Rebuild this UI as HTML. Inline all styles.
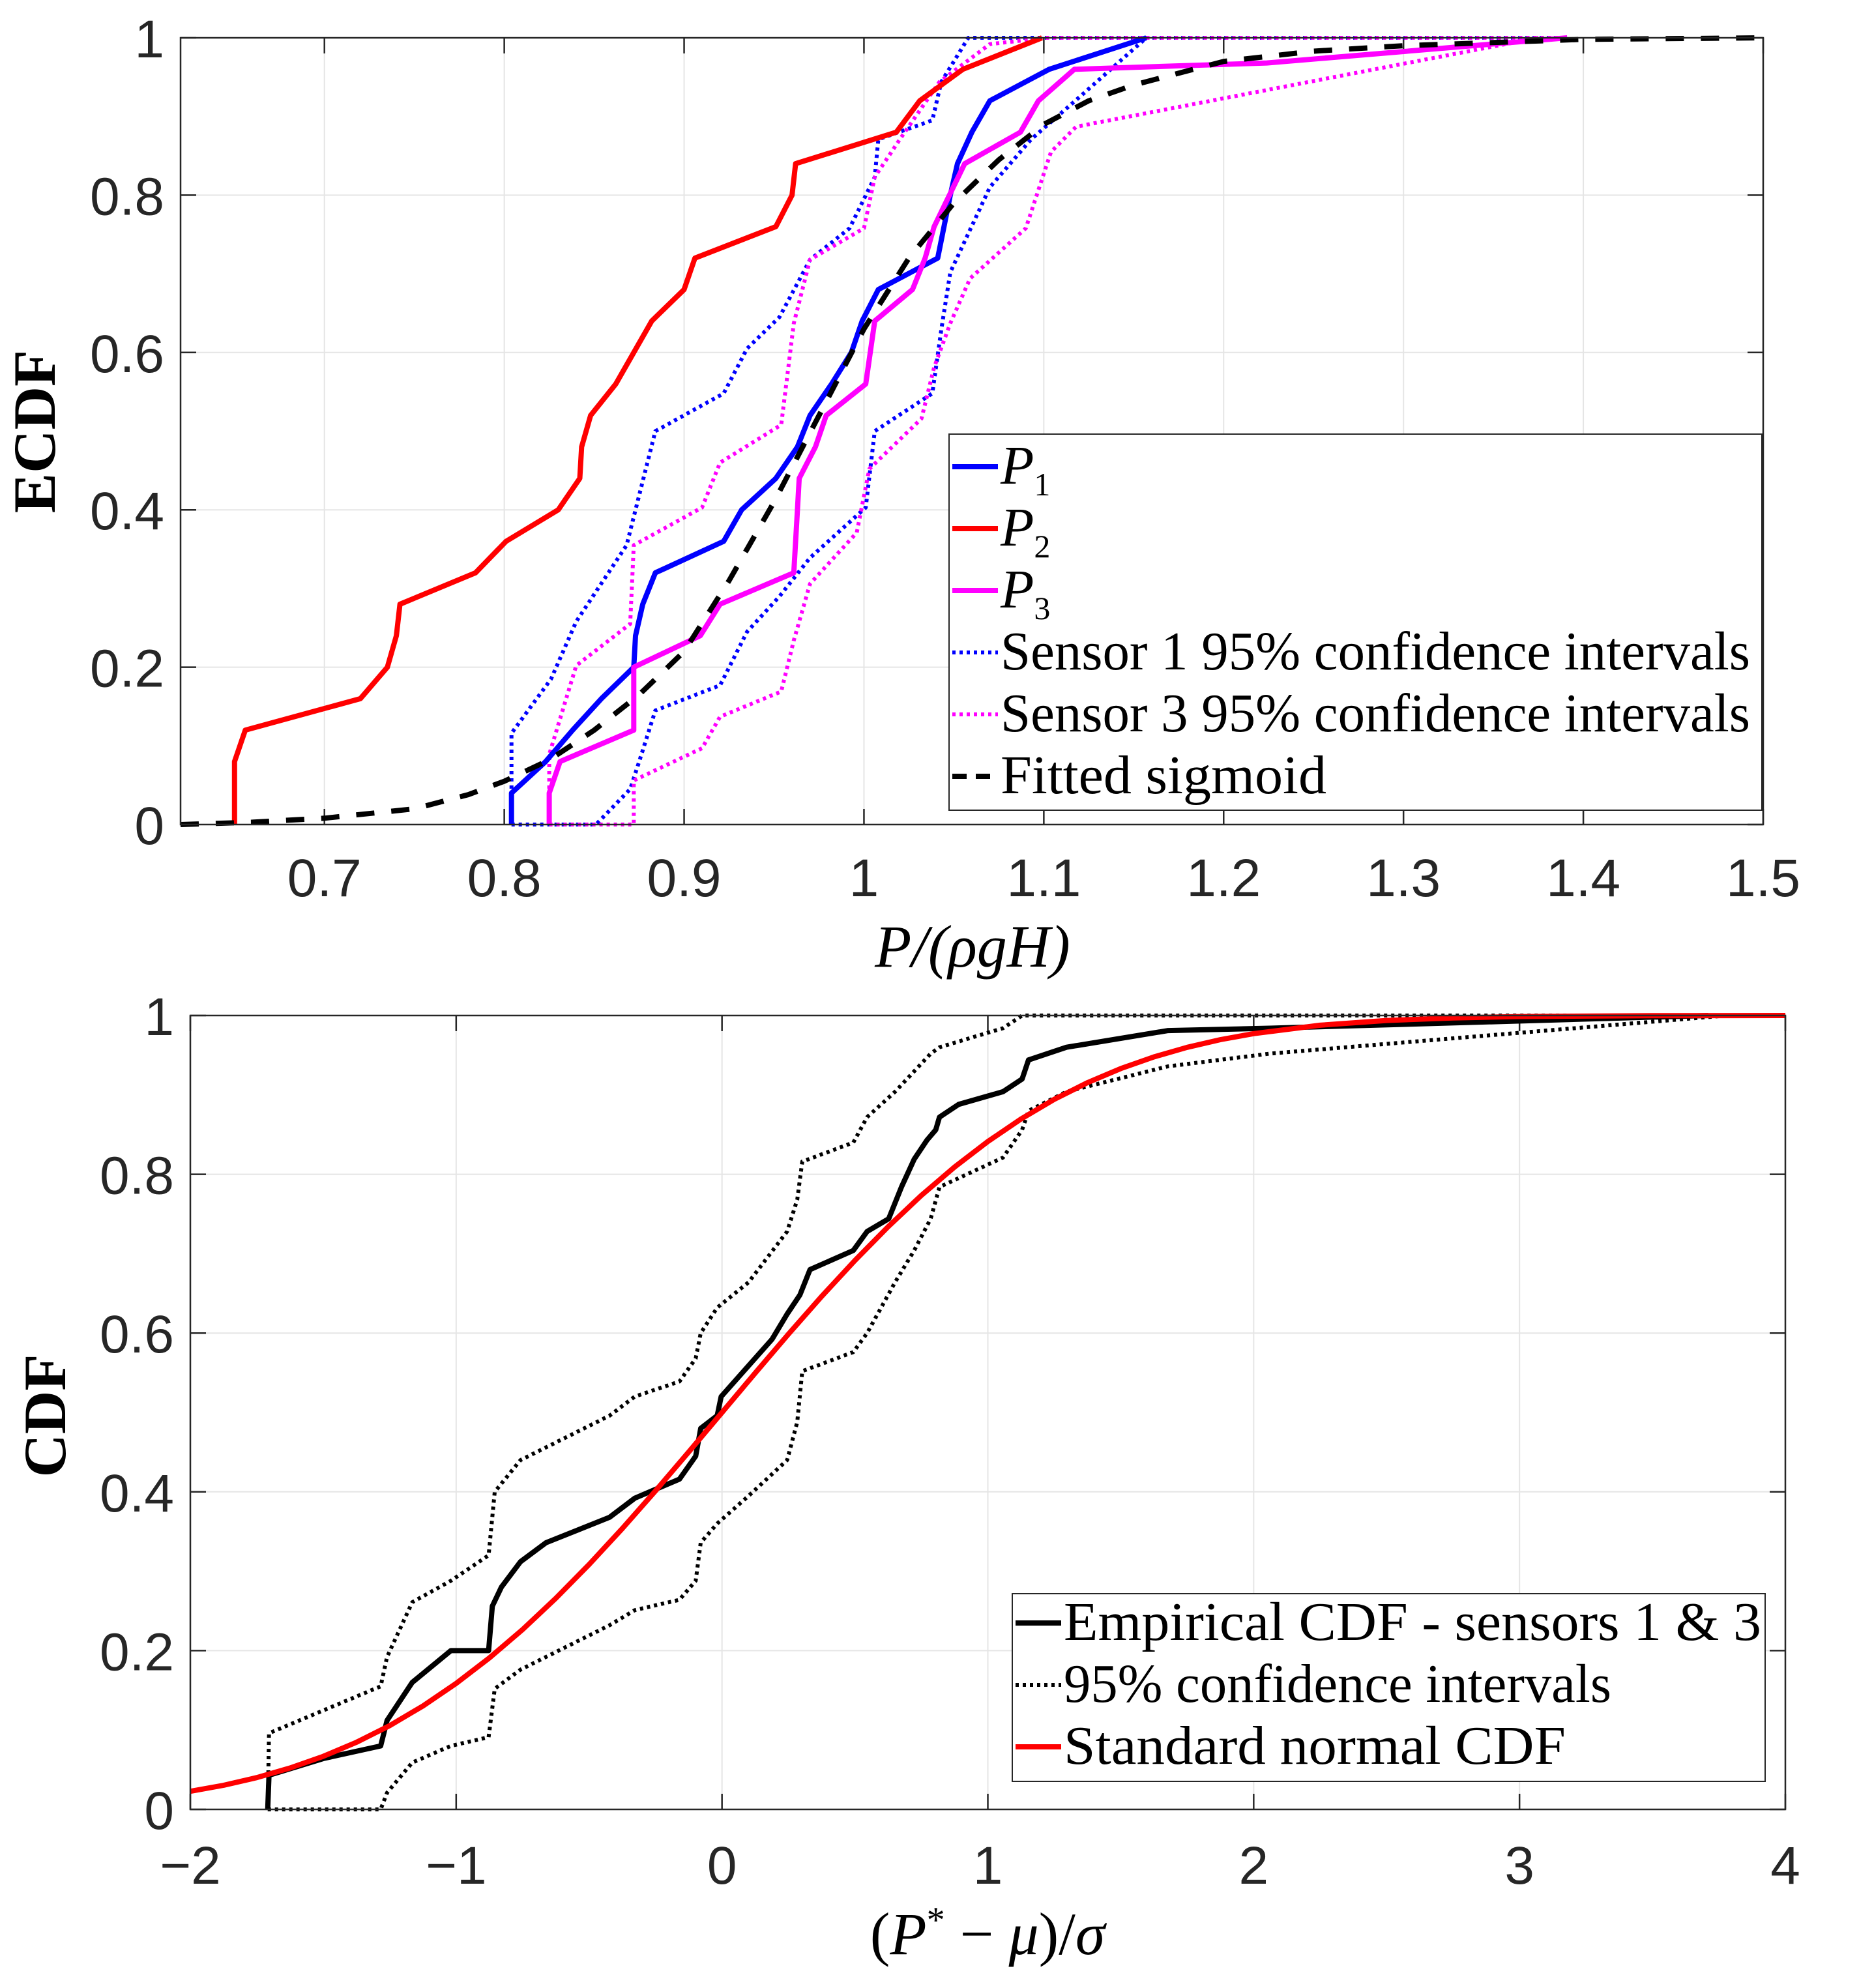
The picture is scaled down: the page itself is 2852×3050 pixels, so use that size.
<!DOCTYPE html>
<html><head><meta charset="utf-8"><style>
html,body{margin:0;padding:0;background:#fff;}
svg{display:block;}
.tick{font-family:"Liberation Sans",sans-serif;font-size:82px;fill:#262626;}
.lab{font-family:"Liberation Serif",serif;fill:#000;}
</style></head><body>
<svg id="fig" width="2852" height="3050" viewBox="0 0 2852 3050" xmlns="http://www.w3.org/2000/svg">
<g id="top"></g>
<g id="bot"></g>
</svg>
<script>
// ---- Top chart data ----
const p1X=[0.804,0.804,0.823,0.838,0.854,0.872,0.873,0.877,0.884,0.922,0.932,0.951,0.963,0.970,0.982,0.993,0.999,1.008,1.041,1.048,1.052,1.060,1.070,1.103,1.157];
const p1Y=[0,0.04,0.08,0.12,0.16,0.20,0.24,0.28,0.32,0.36,0.40,0.44,0.48,0.52,0.56,0.60,0.64,0.68,0.72,0.80,0.84,0.88,0.92,0.96,1];
const p2X=[0.650,0.650,0.656,0.720,0.735,0.740,0.742,0.784,0.801,0.830,0.842,0.843,0.848,0.862,0.882,0.900,0.906,0.951,0.960,0.962,1.018,1.031,1.055,1.099];
const p2Y=[0,0.08,0.12,0.16,0.20,0.24,0.28,0.32,0.36,0.40,0.44,0.48,0.52,0.56,0.64,0.68,0.72,0.76,0.80,0.84,0.88,0.92,0.96,1];
const p3X=[0.825,0.825,0.831,0.872,0.872,0.909,0.920,0.961,0.963,0.964,0.973,0.979,1.001,1.006,1.027,1.034,1.039,1.056,1.087,1.097,1.117,1.224,1.391];
const p3Y=[0,0.04,0.08,0.12,0.20,0.24,0.28,0.32,0.40,0.44,0.48,0.52,0.56,0.64,0.68,0.72,0.76,0.84,0.88,0.92,0.96,0.968,1];
const s1UpX=[0.804,0.804,0.826,0.840,0.868,0.884,0.922,0.935,0.953,0.970,0.992,1.006,1.008,1.038,1.043,1.058,1.39];
const s1UpY=[0,0.116,0.185,0.258,0.355,0.50,0.548,0.605,0.645,0.718,0.758,0.823,0.871,0.895,0.944,1,1];
const s1LoX=[0.804,0.851,0.870,0.875,0.884,0.920,0.935,0.953,0.970,1.001,1.006,1.038,1.043,1.048,1.070,1.093,1.121,1.157];
const s1LoY=[0,0,0.045,0.08,0.145,0.177,0.245,0.29,0.339,0.403,0.50,0.548,0.629,0.702,0.81,0.871,0.927,1];
const s3UpX=[0.825,0.825,0.840,0.870,0.872,0.910,0.920,0.954,0.961,0.970,1.000,1.006,1.020,1.042,1.070,1.101,1.39];
const s3UpY=[0,0.089,0.202,0.255,0.355,0.403,0.46,0.508,0.637,0.718,0.758,0.823,0.871,0.944,0.992,1,1];
const s3LoX=[0.825,0.872,0.872,0.910,0.920,0.954,0.961,0.970,0.996,1.003,1.032,1.039,1.048,1.059,1.090,1.104,1.118,1.375];
const s3LoY=[0,0,0.056,0.097,0.137,0.169,0.234,0.306,0.371,0.452,0.516,0.581,0.637,0.694,0.758,0.855,0.887,1];
const sigX=[0.62,0.66,0.70,0.75,0.78,0.80,0.825,0.85,0.875,0.90,0.925,0.95,0.975,1.00,1.025,1.05,1.075,1.10,1.125,1.15,1.20,1.25,1.30,1.40,1.50];
const sigY=[0,0.003,0.008,0.02,0.038,0.055,0.082,0.12,0.165,0.22,0.31,0.41,0.52,0.63,0.72,0.79,0.845,0.89,0.92,0.94,0.97,0.983,0.99,0.998,1];
const topXTicks=[0.7,0.8,0.9,1,1.1,1.2,1.3,1.4,1.5];
const topXTickLabels=["0.7","0.8","0.9","1","1.1","1.2","1.3","1.4","1.5"];
const yTicks=[0,0.2,0.4,0.6,0.8,1];
const yTickLabels=["0","0.2","0.4","0.6","0.8","1"];
// ---- Bottom chart data ----
const empX=[-1.709,-1.704,-1.50,-1.284,-1.26,-1.165,-1.02,-0.878,-0.864,-0.83,-0.758,-0.662,-0.423,-0.328,-0.16,-0.099,-0.08,-0.018,-0.003,0.188,0.245,0.293,0.331,0.494,0.546,0.627,0.675,0.723,0.771,0.804,0.818,0.89,1.057,1.129,1.153,1.296,1.678,2.06,3.71];
const empY=[0,0.043,0.064,0.08,0.112,0.16,0.20,0.20,0.256,0.28,0.312,0.336,0.368,0.392,0.416,0.445,0.48,0.496,0.52,0.592,0.624,0.648,0.68,0.704,0.728,0.744,0.784,0.819,0.843,0.856,0.872,0.888,0.904,0.92,0.944,0.96,0.981,0.984,1];
const ciUpX=[-1.709,-1.704,-1.284,-1.26,-1.165,-1.02,-0.878,-0.855,-0.758,-0.423,-0.328,-0.16,-0.099,-0.08,-0.018,0.10,0.245,0.283,0.302,0.494,0.546,0.651,0.785,0.818,1.057,1.129,3.70];
const ciUpY=[0,0.096,0.155,0.192,0.261,0.288,0.32,0.40,0.44,0.496,0.52,0.539,0.568,0.60,0.632,0.664,0.728,0.768,0.816,0.84,0.872,0.904,0.952,0.96,0.984,1,1];
const ciLoX=[-1.709,-1.284,-1.26,-1.165,-1.02,-0.878,-0.855,-0.758,-0.423,-0.328,-0.16,-0.099,-0.08,-0.018,0.10,0.245,0.283,0.302,0.494,0.546,0.651,0.723,0.785,0.818,1.057,1.129,1.153,1.296,1.678,2.06,3.78];
const ciLoY=[0,0,0.021,0.059,0.08,0.091,0.152,0.176,0.232,0.251,0.264,0.288,0.336,0.36,0.395,0.44,0.488,0.552,0.576,0.60,0.664,0.704,0.744,0.784,0.821,0.856,0.88,0.904,0.936,0.952,1];
const normX=[-2,-1.875,-1.75,-1.625,-1.5,-1.375,-1.25,-1.125,-1,-0.875,-0.75,-0.625,-0.5,-0.375,-0.25,-0.125,0,0.125,0.25,0.375,0.5,0.625,0.75,0.875,1,1.125,1.25,1.375,1.5,1.625,1.75,1.875,2,2.25,2.5,2.75,3,3.5,4];
const normY=[0.0228,0.0304,0.0401,0.0521,0.0668,0.0846,0.1056,0.1303,0.1587,0.1908,0.2266,0.2660,0.3085,0.3538,0.4013,0.4503,0.5,0.5497,0.5987,0.6462,0.6915,0.7340,0.7734,0.8092,0.8413,0.8697,0.8944,0.9154,0.9332,0.9479,0.9599,0.9696,0.9772,0.9878,0.9938,0.9970,0.9987,0.9998,1];
const botXTicks=[-2,-1,0,1,2,3,4];
const botXTickLabels=["\u22122","\u22121","0","1","2","3","4"];

const NS="http://www.w3.org/2000/svg";
function mk(parent,tag,attrs){const e=document.createElementNS(NS,tag);for(const k in attrs)e.setAttribute(k,attrs[k]);parent.appendChild(e);return e;}

function axes(g,L,R,T,B,x0,x1,xt,xtl,tickY,ylabX){
  const sx2=v=>L+(v-x0)/(x1-x0)*(R-L);
  const syy=v=>B-v*(B-T);
  for(const v of xt){ if(v<=x0||v>=x1) continue;
    const l=mk(g,'line',{x1:sx2(v),x2:sx2(v),y1:T,y2:B,stroke:'#e5e5e5','stroke-width':2});
    }
  for(const v of yTicks){ if(v<=0||v>=1) continue;
    const l=mk(g,'line',{x1:L,x2:R,y1:syy(v),y2:syy(v),stroke:'#e5e5e5','stroke-width':2});
    }
  xt.forEach((v,i)=>{const t=mk(g,'text',{x:sx2(v),y:tickY,'text-anchor':'middle',class:'tick'});t.textContent=xtl[i];
    
    mk(g,'line',{x1:sx2(v),x2:sx2(v),y1:B,y2:B-24,stroke:'#262626','stroke-width':2.5});
    mk(g,'line',{x1:sx2(v),x2:sx2(v),y1:T,y2:T+24,stroke:'#262626','stroke-width':2.5});});
  yTicks.forEach((v,i)=>{const t=mk(g,'text',{x:ylabX,y:syy(v)+30,'text-anchor':'end',class:'tick'});t.textContent=yTickLabels[i];
    
    mk(g,'line',{x1:L,x2:L+24,y1:syy(v),y2:syy(v),stroke:'#262626','stroke-width':2.5});
    mk(g,'line',{x1:R,x2:R-24,y1:syy(v),y2:syy(v),stroke:'#262626','stroke-width':2.5});});
  return [sx2,syy];
}
function box(g,L,R,T,B){const r=mk(g,'rect',{x:L,y:T,width:R-L,height:B-T,fill:'none',stroke:'#262626','stroke-width':2.5});
  }
function series(g,X,Y,sx,sy,st,name){
  const d=X.map((x,i)=>(i?'L':'M')+sx(x).toFixed(1)+','+sy(Y[i]).toFixed(1)).join('');
  const p=mk(g,'path',Object.assign({d:d,fill:'none','stroke-linejoin':'round'},st));
  
}
function legendEntry(g,x,y,w,st,txt,size,tl,name){
  const l=mk(g,'line',Object.assign({x1:x,x2:x+w,y1:y,y2:y},st));
  
  const t=mk(g,'text',{x:x+w+4,y:y+26,class:'lab','font-size':size});
  if(tl){ t.setAttribute('textLength',tl); t.setAttribute('lengthAdjust','spacingAndGlyphs'); }
  t.innerHTML=txt;
  
}
const SW=8;
// ---- TOP ----
(function(){
  const g=document.getElementById('top');
  const L=277,R=2705,T=58,B=1265;
  const [sx,sy]=axes(g,L,R,T,B,0.62,1.5,topXTicks,topXTickLabels,1375,252);
  const solid=c=>({stroke:c,'stroke-width':SW});
  const dot=c=>({stroke:c,'stroke-width':6,'stroke-dasharray':'5,6'});
  series(g,s1UpX,s1UpY,sx,sy,dot('#0000ff'),'sensor1-ci-upper');
  series(g,s1LoX,s1LoY,sx,sy,dot('#0000ff'),'sensor1-ci-lower');
  series(g,s3UpX,s3UpY,sx,sy,dot('#ff00ff'),'sensor3-ci-upper');
  series(g,s3LoX,s3LoY,sx,sy,dot('#ff00ff'),'sensor3-ci-lower');
  series(g,p2X,p2Y,sx,sy,solid('#ff0000'),'p2-line');
  series(g,p1X,p1Y,sx,sy,solid('#0000ff'),'p1-line');
  series(g,p3X,p3Y,sx,sy,solid('#ff00ff'),'p3-line');
  series(g,sigX,sigY,sx,sy,{stroke:'#000','stroke-width':8,'stroke-dasharray':'28,26'},'fitted-sigmoid');
  box(g,L,R,T,B);
  const lb=mk(g,'rect',{x:1456,y:666,width:1247,height:577,fill:'#fff',stroke:'#262626','stroke-width':2});
  
  legendEntry(g,1461,716,70,solid('#0000ff'),'<tspan font-style="italic">P</tspan><tspan font-size="50" dy="18">1</tspan>',84,null,'legend-p1');
  legendEntry(g,1461,811,70,solid('#ff0000'),'<tspan font-style="italic">P</tspan><tspan font-size="50" dy="18">2</tspan>',84,null,'legend-p2');
  legendEntry(g,1461,906,70,solid('#ff00ff'),'<tspan font-style="italic">P</tspan><tspan font-size="50" dy="18">3</tspan>',84,null,'legend-p3');
  legendEntry(g,1461,1001,70,dot('#0000ff'),'Sensor 1 95% confidence intervals',84,1150,'legend-sensor1-ci');
  legendEntry(g,1461,1096,70,dot('#ff00ff'),'Sensor 3 95% confidence intervals',84,1150,'legend-sensor3-ci');
  legendEntry(g,1461,1191,70,{stroke:'#000','stroke-width':8,'stroke-dasharray':'22,14'},'Fitted sigmoid',84,500,'legend-sigmoid');
  const yl=mk(g,'text',{x:0,y:0,transform:'translate(84,662) rotate(-90)','text-anchor':'middle',class:'lab','font-size':92,'font-weight':'bold'});
  yl.textContent='ECDF';
  const xl=mk(g,'text',{x:1492,y:1483,'text-anchor':'middle',class:'lab','font-size':92,'font-style':'italic'});
  xl.textContent='P/(\u03C1gH)';
})();

// ---- BOTTOM ----
(function(){
  const g=document.getElementById('bot');
  const L=292,R=2739,T=1558,B=2776;
  const [sx,sy]=axes(g,L,R,T,B,-2,4,botXTicks,botXTickLabels,2890,267);
  series(g,ciUpX,ciUpY,sx,sy,{stroke:'#000','stroke-width':6,'stroke-dasharray':'5,6'},'ci-upper');
  series(g,ciLoX,ciLoY,sx,sy,{stroke:'#000','stroke-width':6,'stroke-dasharray':'5,6'},'ci-lower');
  series(g,empX,empY,sx,sy,{stroke:'#000','stroke-width':SW},'empirical-cdf');
  series(g,normX,normY,sx,sy,{stroke:'#ff0000','stroke-width':SW},'standard-normal-cdf');
  box(g,L,R,T,B);
  const lb=mk(g,'rect',{x:1553,y:2445,width:1155,height:288,fill:'#fff',stroke:'#262626','stroke-width':2});
  
  legendEntry(g,1558,2490,70,{stroke:'#000','stroke-width':SW},'Empirical CDF - sensors 1 &amp; 3',84,1070,'legend-empirical');
  legendEntry(g,1558,2585,70,{stroke:'#000','stroke-width':6,'stroke-dasharray':'5,6'},'95% confidence intervals',84,840,'legend-ci');
  legendEntry(g,1558,2680,70,{stroke:'#ff0000','stroke-width':SW},'Standard normal CDF',84,770,'legend-normal');
  const yl=mk(g,'text',{x:0,y:0,transform:'translate(100,2172) rotate(-90)','text-anchor':'middle',class:'lab','font-size':92,'font-weight':'bold'});
  yl.textContent='CDF';
  const xl=mk(g,'text',{x:1515,y:2998,'text-anchor':'middle',class:'lab','font-size':92});
  xl.innerHTML='(<tspan font-style="italic">P</tspan><tspan font-size="56" dy="-34">*</tspan><tspan dy="34"> \u2212 </tspan><tspan font-style="italic">\u03BC</tspan>)/<tspan font-style="italic">\u03C3</tspan>';
  
})();
</script>
</body></html>
